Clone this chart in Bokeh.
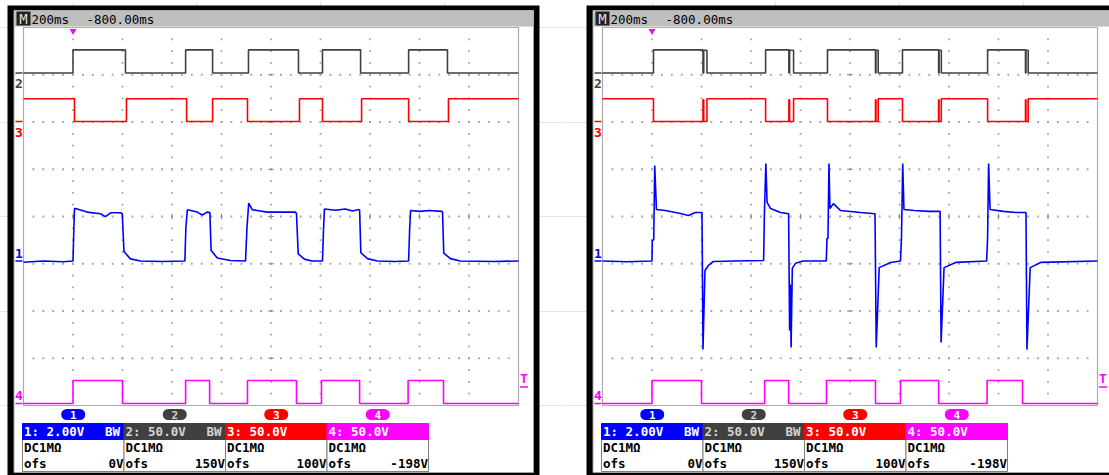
from bokeh.plotting import figure
from bokeh.layouts import row
from bokeh.models import Range1d
from bokeh.embed import file_html
from bokeh.resources import INLINE
from bokeh.core.properties import value

# ---------------- data ----------------
TIMEBASE = "200ms"
POSITION = "-800.00ms"
TRIGGER_T = 0.0
CH_NAMES = ["1", "2", "3", "4"]
CH_VOLTS_PER_DIV = [2.0, 50.0, 50.0, 50.0]
CH_SCALE_TEXT = ["1: 2.00V", "2: 50.0V", "3: 50.0V", "4: 50.0V"]
CH_BW_TEXT = ["BW", "BW", "", ""]
CH_COUPLING_TEXT = ["DC1MΩ", "DC1MΩ", "DC1MΩ", "DC1MΩ"]
CH_OFFSET_TEXT = ["0V", "150V", "100V", "-198V"]

# capture A (left screen): time in ms from trigger, value in volts
A_CH1_T = [-200, -120, -40, 0, 3, 6, 10, 57, 111, 131, 152, 192, 199, 206, 232, 273,
           360, 452, 456, 462, 502, 522, 542, 553, 558, 583, 636, 697, 703, 710, 724,
           785, 852, 899, 903, 910, 935, 965, 1008, 1012, 1016, 1060, 1100, 1130, 1155,
           1158, 1163, 1190, 1230, 1300, 1356, 1360, 1364, 1400, 1440, 1490, 1493, 1498,
           1525, 1565, 1700, 1800]
A_CH1_V = [-0.05, 0.0, -0.03, 0.0, 1.2, 2.22, 2.22, 2.07, 2.0, 1.88, 2.04, 2.04, 2.0,
           0.4, 0.09, 0.0, -0.02, 0.0, 1.4, 2.17, 2.07, 1.95, 2.07, 2.05, 0.44, 0.13,
           0.02, 0.0, 1.43, 2.45, 2.17, 2.07, 2.07, 2.07, 2.0, 0.3, 0.08, 0.0, 0.0, 1.3,
           2.2, 2.15, 2.2, 2.12, 2.18, 2.15, 0.35, 0.1, 0.0, -0.02, 0.0, 1.3, 2.14, 2.1,
           2.14, 2.1, 2.08, 0.33, 0.1, 0.0, -0.02, 0.0]
A_CH2_T = [-200, 0, 0, 212, 212, 455, 455, 564, 564, 709, 709, 911, 911, 1008, 1008,
           1162, 1162, 1356, 1356, 1513, 1513, 1800]
A_CH2_V = [0, 0, 24.5, 24.5, 0, 0, 24.5, 24.5, 0, 0, 24.5, 24.5, 0, 0, 24.5,
           24.5, 0, 0, 24.5, 24.5, 0, 0]
A_CH3_T = [-200, 6, 6, 216, 216, 459, 459, 564, 564, 705, 705, 915, 915, 1008, 1008,
           1166, 1166, 1356, 1356, 1517, 1517, 1800]
A_CH3_V = [24, 24, 0, 0, 24, 24, 0, 0, 24, 24, 0, 0, 24, 24, 0,
           0, 24, 24, 0, 0, 24, 24]
A_CH4_T = [-200, 0, 0, 200, 200, 455, 455, 552, 552, 705, 705, 903, 903, 1004, 1004,
           1158, 1158, 1354, 1354, 1497, 1497, 1800]
A_CH4_V = [0, 0, 24.3, 24.3, 0, 0, 24.3, 24.3, 0, 0, 24.3, 24.3, 0, 0, 24.3,
           24.3, 0, 0, 24.3, 24.3, 0, 0]

# capture B (right screen)
B_CH1_T = [-200, -100, 0, 1, 7, 11, 18, 54, 115, 147, 175, 202, 206, 214, 228, 248, 330,
           451, 454, 460, 465, 479, 519, 552, 556, 559, 562, 567, 580, 610,
           704, 707, 711, 715, 719, 733, 761, 842, 901, 906, 918, 964,
           1004, 1008, 1013, 1018, 1060, 1120, 1164, 1168, 1180, 1227,
           1352, 1356, 1360, 1366, 1420, 1470, 1511, 1515, 1528, 1570, 1800]
B_CH1_V = [0.0, -0.03, 0.0, 0.87, 0.9, 4.04, 2.18, 2.14, 2.01, 1.93, 2.05, 2.05, -3.75,
           -0.4, -0.19, -0.02, 0.0,
           0.02, 1.93, 4.13, 2.48, 2.22, 2.05, 2.0, -2.94, -1.0, -3.66, -0.3, -0.1, 0.0,
           0.0, 0.95, 0.95, 4.13, 2.22, 2.43, 2.14, 2.05, 2.0, -3.66, -0.28, -0.06,
           0.0, 1.0, 4.13, 2.18, 2.14, 2.1, 2.1, -3.45, -0.28, -0.06,
           0.0, 1.0, 4.13, 2.18, 2.1, 2.05, 2.05, -3.75, -0.28, -0.06, 0.0]
B_CH2_T = [-200, 6, 6, 206, 206, 209, 209, 222, 222, 459, 459, 553, 553, 556, 556, 572, 572,
           709, 709, 903, 903, 905, 905, 914, 914, 1012, 1012, 1158, 1158, 1160, 1160,
           1169, 1169, 1356, 1356, 1509, 1509, 1511, 1511, 1520, 1520, 1800]
B_CH2_V = [0, 0, 24.5, 24.5, 0, 0, 24, 24, 0, 0, 24.5, 24.5, 0, 0, 24, 24, 0,
           0, 24.5, 24.5, 0, 0, 24, 24, 0, 0, 24.5, 24.5, 0, 0, 24,
           24, 0, 0, 24.5, 24.5, 0, 0, 24, 24, 0, 0]
B_CH3_T = [-200, 6, 6, 206, 206, 209, 209, 222, 222, 459, 459, 553, 553, 556, 556, 572, 572,
           709, 709, 903, 903, 905, 905, 914, 914, 1012, 1012, 1158, 1158, 1160, 1160,
           1169, 1169, 1356, 1356, 1509, 1509, 1511, 1511, 1520, 1520, 1800]
B_CH3_V = [24, 24, 0, 0, 23, 23, 0, 0, 24, 24, 0, 0, 23, 23, 0, 0, 24,
           24, 0, 0, 23, 23, 0, 0, 24, 24, 0, 0, 23, 23, 0,
           0, 24, 24, 0, 0, 23, 23, 0, 0, 24, 24]
B_CH4_T = [-200, 0, 0, 200, 200, 455, 455, 552, 552, 705, 705, 903, 903, 1004, 1004,
           1158, 1158, 1354, 1354, 1497, 1497, 1800]
B_CH4_V = [0, 0, 24.3, 24.3, 0, 0, 24.3, 24.3, 0, 0, 24.3, 24.3, 0, 0, 24.3,
           24.3, 0, 0, 24.3, 24.3, 0, 0]

# ---------------- layout / style ----------------
PX_PER_MS = 495 / 2000.0
PX_PER_DIV = 47.25
SC_L, SC_R, SC_T, SC_B = 23, 518, 27, 405
PAGE_T, PAGE_B = 0, 475
CH_COLORS = ["#0000FF", "#404040", "#FF0000", "#FF00FF"]
HEAD_TEXT_COLORS = ["#FFFFFF", "#D4D4D4", "#FFFFFF", "#FFFFFF"]
MONO = value("DejaVu Sans Mono")
COL_EDGES = [22, 123.5, 225, 326.5, 428]


def ms_at(px):
    return -200 + (px - SC_L) / PX_PER_MS


def div_at(py):
    return (SC_B - py) / PX_PER_DIV


CH_POS_DIV = [div_at(260.5), div_at(72.5), div_at(121.0), div_at(403.0)]
CH_MARK_BELOW = [False, True, True, False]
PX = dict(x_range_name="px", y_range_name="px")


def make_panel(px_left, px_right, traces):
    p = figure(width=int(round(px_right - px_left)), height=PAGE_B - PAGE_T,
               x_range=Range1d(ms_at(px_left), ms_at(px_right)),
               y_range=Range1d(div_at(PAGE_B), div_at(PAGE_T)),
               output_backend="svg", toolbar_location=None,
               x_axis_location=None, y_axis_location=None, min_border=0,
               background_fill_color="white", border_fill_color="white",
               outline_line_color=None)
    p.extra_x_ranges = {"px": Range1d(px_left, px_right)}
    yr = {"px": Range1d(PAGE_B, PAGE_T)}
    for i, name in enumerate(CH_NAMES):
        pos, s = CH_POS_DIV[i], CH_VOLTS_PER_DIV[i]
        yr["ch" + name] = Range1d((div_at(PAGE_B) - pos) * s, (div_at(PAGE_T) - pos) * s)
    p.extra_y_ranges = yr

    # frame
    p.quad(left=[7], right=[539], top=[5], bottom=[476], fill_color="black", line_color=None, **PX)
    p.quad(left=[13.5], right=[533], top=[10], bottom=[472], fill_color="white",
           line_color="#A0A0A0", line_width=1, **PX)
    p.quad(left=[14], right=[533], top=[10], bottom=[26], fill_color="#BEBEBE", line_color=None, **PX)
    p.quad(left=[SC_L], right=[SC_R], top=[SC_T], bottom=[SC_B], fill_color="white",
           line_color="#ABABAB", line_width=1.2, **PX)

    # graticule dots
    gx, gy = [], []
    for k in range(1, 10):
        t = -200 + 200 * k
        for q in range(1, 32):
            gx.append(t)
            gy.append(q * 0.25)
    for j in range(1, 8):
        for q in range(1, 50):
            gx.append(-200 + 40 * q)
            gy.append(j)
    p.scatter(gx, gy, marker="square", size=1.8, fill_color="#A4A4A4", line_color=None)
    # centre-line ticks
    for j in range(1, 8):
        p.segment(x0=[800 - 12], y0=[j], x1=[800 + 12], y1=[j], line_color="#8C8C8C", line_width=1)
    for k in range(1, 10):
        p.segment(x0=[-200 + 200 * k], y0=[4 - 0.06], x1=[-200 + 200 * k], y1=[4 + 0.06],
                  line_color="#8C8C8C", line_width=1)

    # traces
    for i, name in enumerate(CH_NAMES):
        t, v = traces[i]
        p.line(t, v, y_range_name="ch" + name, line_color=CH_COLORS[i], line_width=1.6)

    # channel ground markers
    for i, name in enumerate(CH_NAMES):
        gyp = SC_B - CH_POS_DIV[i] * PX_PER_DIV
        p.segment(x0=[15], y0=[gyp], x1=[22], y1=[gyp], line_color=CH_COLORS[i], line_width=1.5, **PX)
        ty = gyp + 10.5 if CH_MARK_BELOW[i] else gyp - 8
        p.text(x=[18.5], y=[ty], text=[name], text_font=MONO, text_font_size="13px",
               text_font_style="bold", text_color=CH_COLORS[i], text_align="center",
               text_baseline="middle", **PX)

    # trigger markers
    p.scatter(x=[TRIGGER_T], y=[30.5], marker="inverted_triangle", size=7,
              fill_color="#FF00FF", line_color=None, y_range_name="px")
    p.text(x=[523.5], y=[378], text=["T"], text_font=MONO, text_font_size="13px",
           text_font_style="bold", text_color="#FF00FF", text_align="center",
           text_baseline="middle", **PX)
    p.segment(x0=[519.5], y0=[386.5], x1=[527.5], y1=[386.5], line_color="#FF00FF", line_width=1.5, **PX)

    # header
    p.quad(left=[16], right=[30], top=[11], bottom=[25], fill_color="#222222", line_color=None, **PX)
    p.text(x=[23], y=[18.5], text=["M"], text_font=MONO, text_font_size="14px",
           text_color="#DDDDDD", text_align="center", text_baseline="middle", **PX)
    p.text(x=[31], y=[18.5], text=[TIMEBASE], text_font=MONO, text_font_size="12.5px",
           text_color="black", text_align="left", text_baseline="middle", **PX)
    p.text(x=[86], y=[18.5], text=[POSITION], text_font=MONO, text_font_size="12.5px",
           text_color="black", text_align="left", text_baseline="middle", **PX)

    # channel badges and table
    for i, name in enumerate(CH_NAMES):
        l, r = COL_EDGES[i], COL_EDGES[i + 1]
        cx = (l + r) / 2
        p.rect(x=[cx], y=[414], width=13, height=11, fill_color=CH_COLORS[i], line_color=None, **PX)
        p.ellipse(x=[cx - 6.5, cx + 6.5], y=[414, 414], width=11, height=11,
                  fill_color=CH_COLORS[i], line_color=None, **PX)
        p.text(x=[cx], y=[414.5], text=[name], text_font=MONO, text_font_size="11px",
               text_font_style="bold", text_color=HEAD_TEXT_COLORS[i], text_align="center",
               text_baseline="middle", **PX)
        p.quad(left=[l], right=[r], top=[439], bottom=[471], fill_color="white",
               line_color="#7F7F7F", line_width=1, **PX)
        p.quad(left=[l], right=[r], top=[423], bottom=[439], fill_color=CH_COLORS[i],
               line_color=CH_COLORS[i], line_width=1, **PX)
        p.text(x=[l + 1.5], y=[431], text=[CH_SCALE_TEXT[i]], text_font=MONO,
               text_font_size="12.5px", text_font_style="bold", text_color=HEAD_TEXT_COLORS[i],
               text_align="left", text_baseline="middle", **PX)
        if CH_BW_TEXT[i]:
            p.text(x=[r - 4], y=[431], text=[CH_BW_TEXT[i]], text_font=MONO,
                   text_font_size="12.5px", text_font_style="bold",
                   text_color=HEAD_TEXT_COLORS[i], text_align="right",
                   text_baseline="middle", **PX)
        p.text(x=[l + 1.5], y=[447], text=[CH_COUPLING_TEXT[i]], text_font=MONO,
               text_font_size="12.5px", text_font_style="bold", text_color="black",
               text_align="left", text_baseline="middle", **PX)
        p.text(x=[l + 1.5], y=[463], text=["ofs"], text_font=MONO,
               text_font_size="12.5px", text_font_style="bold", text_color="black",
               text_align="left", text_baseline="middle", **PX)
        p.text(x=[r - 0.5], y=[463], text=[CH_OFFSET_TEXT[i]], text_font=MONO,
               text_font_size="12.5px", text_font_style="bold", text_color="black",
               text_align="right", text_baseline="middle", **PX)
    return p


left = make_panel(0, 563, [(A_CH1_T, A_CH1_V), (A_CH2_T, A_CH2_V),
                           (A_CH3_T, A_CH3_V), (A_CH4_T, A_CH4_V)])
right = make_panel(563 - 579, 1109 - 579, [(B_CH1_T, B_CH1_V), (B_CH2_T, B_CH2_V),
                                           (B_CH3_T, B_CH3_V), (B_CH4_T, B_CH4_V)])
p = row(left, right, spacing=0)
open("out.html", "w").write(file_html(p, INLINE))
